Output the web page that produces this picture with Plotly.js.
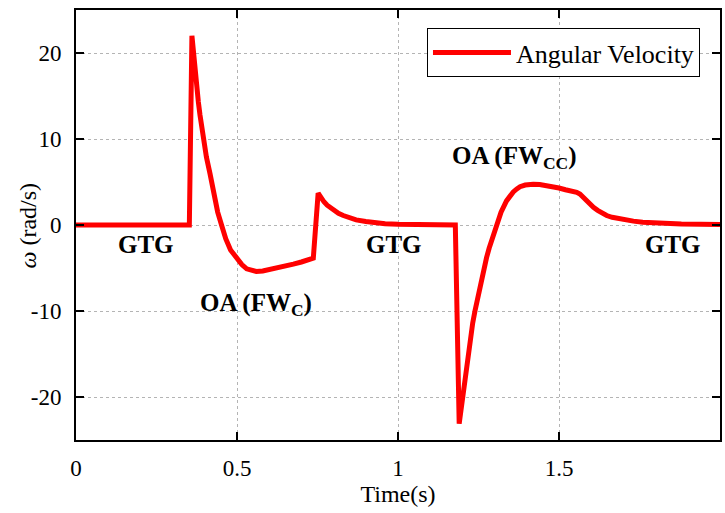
<!DOCTYPE html>
<html>
<head>
<meta charset="utf-8">
<script src="https://cdn.plot.ly/plotly-3.0.1.min.js"></script>
<style>
  html, body { margin: 0; padding: 0; background: #fff; }
  #chart { width: 725px; height: 513px; }
</style>
</head>
<body>
<div id="chart"></div>
<script>
// Angular velocity response over time (s)
const time = [
  0, 0.352, 0.360, 0.365, 0.370, 0.375, 0.380, 0.385, 0.390, 0.395, 0.405,
  0.416, 0.428, 0.440, 0.452, 0.465, 0.480, 0.500, 0.515, 0.530, 0.545,
  0.560, 0.580, 0.600, 0.625, 0.650, 0.675, 0.700, 0.720, 0.737,
  0.752, 0.760, 0.770, 0.780, 0.790, 0.800, 0.815, 0.830, 0.850, 0.870,
  0.900, 0.930, 0.960, 1.000, 1.050, 1.100, 1.178,
  1.190, 1.197, 1.203, 1.213, 1.224, 1.232, 1.239, 1.247, 1.255, 1.265,
  1.275, 1.283, 1.291, 1.306, 1.320, 1.337, 1.348, 1.358, 1.369, 1.379,
  1.395, 1.410, 1.420, 1.440, 1.460, 1.480, 1.500, 1.520, 1.540, 1.555,
  1.565, 1.575, 1.585, 1.596, 1.607, 1.620, 1.635, 1.648, 1.665, 1.689,
  1.710, 1.731, 1.760, 1.790, 1.834, 1.880, 1.940, 2.000
];
const omega = [
  0, 0, 22.0, 19.8, 17.8, 16.0, 14.3, 12.8, 11.3, 10.0, 7.9,
  6.0, 3.6, 1.5, 0.0, -1.6, -2.9, -3.9, -4.6, -5.1, -5.3,
  -5.4, -5.35, -5.2, -5.0, -4.8, -4.55, -4.3, -4.05, -3.85,
  3.7, 3.15, 2.7, 2.3, 2.0, 1.7, 1.35, 1.1, 0.8, 0.6,
  0.4, 0.25, 0.15, 0.08, 0.03, 0.01, 0.0,
  -23.1, -21.0, -19.2, -16.1, -13.1, -11.4, -10.0, -8.5, -7.2, -5.4,
  -3.8, -2.7, -1.7, 0.0, 1.5, 2.8, 3.4, 3.85, 4.2, 4.45,
  4.65, 4.72, 4.75, 4.7, 4.6, 4.45, 4.3, 4.1, 3.95, 3.8,
  3.6, 3.2, 2.8, 2.4, 2.05, 1.7, 1.35, 1.1, 0.9, 0.7,
  0.55, 0.45, 0.33, 0.25, 0.18, 0.12, 0.08, 0.05
];

const xTicks = [0, 0.5, 1, 1.5, 2];
const xTickText = ['0', '0.5', '1', '1.5', '2'];
const yTicks = [-20, -10, 0, 10, 20];
const yTickText = ['-20', '-10', '0', '10', '20'];

// Phase labels: text, x, y
const phaseText = ['GTG', 'GTG', 'GTG', 'OA (FW<sub>C</sub>)', 'OA (FW<sub>CC</sub>)'];
const phaseX = [0.217, 0.988, 1.854, 0.379, 1.161];
const phaseY = [-2.3, -2.3, -2.3, -9.2, 7.8];
const phaseAnchor = ['center', 'center', 'center', 'left', 'left'];

const serif = '"Liberation Serif", "Times New Roman", Times, serif';

const trace = {
  x: time,
  y: omega,
  type: 'scatter',
  mode: 'lines',
  name: 'Angular Velocity',
  line: { color: '#ff0000', width: 5 }
};

const annotations = phaseText.map((t, i) => ({
  text: t,
  x: phaseX[i],
  y: phaseY[i],
  xref: 'x',
  yref: 'y',
  xanchor: phaseAnchor[i],
  yanchor: 'middle',
  showarrow: false,
  font: { family: serif, size: 25, color: '#000', weight: 'bold' }
}));

// vertical axis label
annotations.push({
  text: '<i>ω</i> (rad/s)',
  xref: 'paper', yref: 'paper',
  x: -0.0738, y: 0.5,
  xanchor: 'center', yanchor: 'middle',
  textangle: -90,
  showarrow: false,
  font: { family: serif, size: 24, color: '#000' }
});

const axisCommon = {
  showline: true,
  linecolor: '#000',
  linewidth: 2,
  mirror: 'ticks',
  ticks: 'inside',
  ticklen: 8,
  tickwidth: 2,
  tickcolor: '#000',
  showgrid: true,
  gridcolor: '#b4b4b4',
  gridwidth: 1,
  griddash: 'dot',
  zeroline: false,
  tickfont: { family: serif, size: 23, color: '#000' }
};

const layout = {
  width: 725,
  height: 513,
  margin: { l: 76, r: 5, t: 10, b: 73 },
  font: { family: serif, color: '#000' },
  paper_bgcolor: '#fff',
  plot_bgcolor: '#fff',
  showlegend: true,
  xaxis: Object.assign({}, axisCommon, {
    range: [0, 2],
    tickmode: 'array',
    tickvals: xTicks,
    ticktext: xTickText,
    ticklabelstandoff: 6,
    title: { text: 'Time(s)', font: { family: serif, size: 24, color: '#000' }, standoff: 4 }
  }),
  yaxis: Object.assign({}, axisCommon, {
    range: [-25, 25],
    tickmode: 'array',
    tickvals: yTicks,
    ticktext: yTickText,
    ticklabelstandoff: 8
  }),
  legend: {
    x: 0.545, y: 0.958,
    xanchor: 'left', yanchor: 'top',
    bgcolor: '#fff',
    bordercolor: '#000',
    borderwidth: 1,
    itemwidth: 78,
    tracegroupgap: 0,
    font: { family: serif, size: 26, color: '#000' }
  },
  annotations: annotations
};

Plotly.newPlot('chart', [trace], layout, { displayModeBar: false, staticPlot: true });
</script>
</body>
</html>
